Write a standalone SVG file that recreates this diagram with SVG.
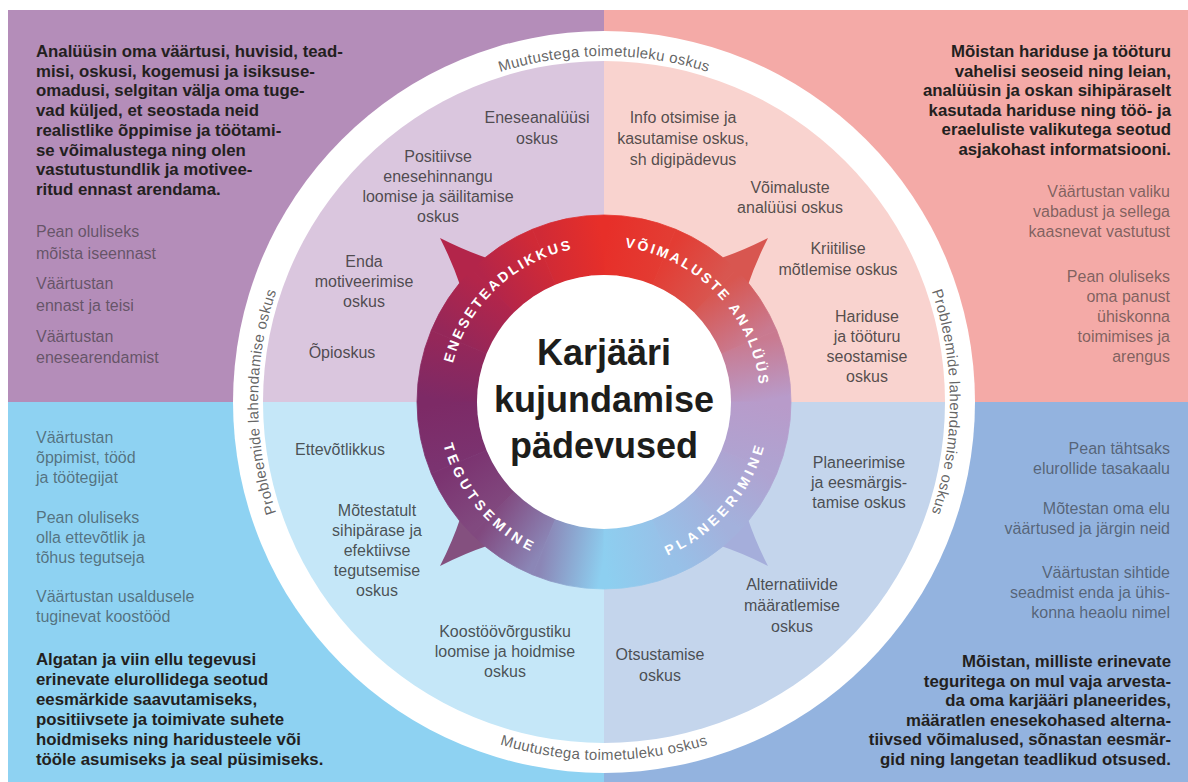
<svg xmlns="http://www.w3.org/2000/svg" xmlns:xlink="http://www.w3.org/1999/xlink" width="1188" height="782" viewBox="0 0 1188 782">
<style>
text{font-family:"Liberation Sans",Arial,sans-serif}
.bt{font-weight:bold;font-size:16.8px;fill:#231f20}
.gt{font-size:16px;fill:#2a2a2a;fill-opacity:.58}
.it{font-size:16px;fill:#2a2a2a;fill-opacity:.8;text-anchor:middle}
.rt{font-size:15px;fill:#4a4a4a;fill-opacity:.85;letter-spacing:.3px}
.lt{font-weight:bold;font-size:14px;fill:#fff;letter-spacing:2.5px}
.lb{font-weight:bold;font-size:14px;fill:#fff;letter-spacing:4px}
.ct{font-weight:bold;font-size:36px;fill:#1d1d1b;text-anchor:middle}
.end{text-anchor:end}
</style>
<defs>
<path id="spike" d="M460.2,285.6 Q452.9,263.5 440,238 Q465.5,250.9 487.6,258.2 Z"/>
<path id="p-ring-top" d="M304.4,229 A346,346 0 0,1 903.6,229"/>
<path id="p-ring-left" d="M431,701.6 A346,346 0 0,1 431,102.4"/>
<path id="p-ring-right" d="M777,102.4 A346,346 0 0,1 777,701.6"/>
<path id="p-ring-bottom" d="M294,581 A358,358 0 0,0 914,581"/>
<path id="p-ene" d="M452.3,438.4 A156,156 0 0,1 648.3,252.4"/>
<path id="p-voi" d="M566.3,250.6 A156,156 0 0,1 754,445"/>
<path id="p-teg" d="M447.1,344.9 A168,168 0 0,0 633,566.5"/>
<path id="p-pla" d="M572.1,565.9 A168,168 0 0,0 761.9,347.6"/>
<linearGradient id="g0" gradientUnits="userSpaceOnUse" x1="761" y1="402" x2="749.05" y2="341.92"><stop offset="0" stop-color="#b89bca"/><stop offset="1" stop-color="#c97a90"/></linearGradient>
<linearGradient id="g1" gradientUnits="userSpaceOnUse" x1="749.05" y1="341.92" x2="715.02" y2="290.98"><stop offset="0" stop-color="#c97a90"/><stop offset="1" stop-color="#d85650"/></linearGradient>
<linearGradient id="g2" gradientUnits="userSpaceOnUse" x1="715.02" y1="290.98" x2="664.08" y2="256.95"><stop offset="0" stop-color="#d85650"/><stop offset="1" stop-color="#e33c33"/></linearGradient>
<linearGradient id="g3" gradientUnits="userSpaceOnUse" x1="664.08" y1="256.95" x2="604" y2="245"><stop offset="0" stop-color="#e33c33"/><stop offset="1" stop-color="#e72f29"/></linearGradient>
<linearGradient id="g4" gradientUnits="userSpaceOnUse" x1="604" y1="245" x2="543.92" y2="256.95"><stop offset="0" stop-color="#e72f29"/><stop offset="1" stop-color="#d02a36"/></linearGradient>
<linearGradient id="g5" gradientUnits="userSpaceOnUse" x1="543.92" y1="256.95" x2="492.98" y2="290.98"><stop offset="0" stop-color="#d02a36"/><stop offset="1" stop-color="#b3254a"/></linearGradient>
<linearGradient id="g6" gradientUnits="userSpaceOnUse" x1="492.98" y1="290.98" x2="458.95" y2="341.92"><stop offset="0" stop-color="#b3254a"/><stop offset="1" stop-color="#952759"/></linearGradient>
<linearGradient id="g7" gradientUnits="userSpaceOnUse" x1="458.95" y1="341.92" x2="447" y2="402"><stop offset="0" stop-color="#952759"/><stop offset="1" stop-color="#7d2a66"/></linearGradient>
<linearGradient id="g8" gradientUnits="userSpaceOnUse" x1="447" y1="402" x2="458.95" y2="462.08"><stop offset="0" stop-color="#7d2a66"/><stop offset="1" stop-color="#7b3370"/></linearGradient>
<linearGradient id="g9" gradientUnits="userSpaceOnUse" x1="458.95" y1="462.08" x2="492.98" y2="513.02"><stop offset="0" stop-color="#7b3370"/><stop offset="1" stop-color="#81497f"/></linearGradient>
<linearGradient id="g10" gradientUnits="userSpaceOnUse" x1="492.98" y1="513.02" x2="543.92" y2="547.05"><stop offset="0" stop-color="#81497f"/><stop offset="1" stop-color="#8b86b6"/></linearGradient>
<linearGradient id="g11" gradientUnits="userSpaceOnUse" x1="543.92" y1="547.05" x2="604" y2="559"><stop offset="0" stop-color="#8b86b6"/><stop offset="1" stop-color="#8dcff0"/></linearGradient>
<linearGradient id="g12" gradientUnits="userSpaceOnUse" x1="604" y1="559" x2="664.08" y2="547.05"><stop offset="0" stop-color="#8dcff0"/><stop offset="1" stop-color="#97c1e8"/></linearGradient>
<linearGradient id="g13" gradientUnits="userSpaceOnUse" x1="664.08" y1="547.05" x2="715.02" y2="513.02"><stop offset="0" stop-color="#97c1e8"/><stop offset="1" stop-color="#a3b1dc"/></linearGradient>
<linearGradient id="g14" gradientUnits="userSpaceOnUse" x1="715.02" y1="513.02" x2="749.05" y2="462.08"><stop offset="0" stop-color="#a3b1dc"/><stop offset="1" stop-color="#afa3d1"/></linearGradient>
<linearGradient id="g15" gradientUnits="userSpaceOnUse" x1="749.05" y1="462.08" x2="761" y2="402"><stop offset="0" stop-color="#afa3d1"/><stop offset="1" stop-color="#b89bca"/></linearGradient>
</defs>

<g id="background">
<rect x="8" y="10" width="596" height="392" fill="#b48db9"/>
<rect x="604" y="10" width="584" height="392" fill="#f4aaa7"/>
<rect x="8" y="402" width="596" height="380" fill="#8ed2f2"/>
<rect x="604" y="402" width="584" height="380" fill="#93b3df"/>
</g>

<g id="outer-ring">
<circle cx="604" cy="402" r="371" fill="#fff"/>
<path d="M604,402 L263,402 A341,341 0 0,1 604,61 Z" fill="#dac6de"/>
<path d="M604,402 L604,61 A341,341 0 0,1 945,402 Z" fill="#f9d3cf"/>
<path d="M604,402 L945,402 A341,341 0 0,1 604,743 Z" fill="#c4d5ec"/>
<path d="M604,402 L604,743 A341,341 0 0,1 263,402 Z" fill="#c5e7f8"/>
<text class="rt" text-anchor="middle"><textPath href="#p-ring-top" startOffset="50%">Muutustega toimetuleku oskus</textPath></text>
<text class="rt" text-anchor="middle"><textPath href="#p-ring-bottom" startOffset="50%">Muutustega toimetuleku oskus</textPath></text>
<text class="rt" text-anchor="middle"><textPath href="#p-ring-left" startOffset="50%">Probleemide lahendamise oskus</textPath></text>
<text class="rt" text-anchor="middle"><textPath href="#p-ring-right" startOffset="50%">Probleemide lahendamise oskus</textPath></text>
</g>

<g id="center-ring">
<use href="#spike" fill="#b3254a"/>
<use href="#spike" fill="#d85650" transform="rotate(90 604 402)"/>
<use href="#spike" fill="#a5aedb" transform="rotate(180 604 402)"/>
<use href="#spike" fill="#84507f" transform="rotate(270 604 402)"/>
<path d="M791,402 A187,187 0 0,0 776.77,330.44 L721.33,353.4 A127,127 0 0,1 731,402 Z" fill="url(#g0)" stroke="url(#g0)" stroke-width=".8"/>
<path d="M776.77,330.44 A187,187 0 0,0 736.23,269.77 L693.8,312.2 A127,127 0 0,1 721.33,353.4 Z" fill="url(#g1)" stroke="url(#g1)" stroke-width=".8"/>
<path d="M736.23,269.77 A187,187 0 0,0 675.56,229.23 L652.6,284.67 A127,127 0 0,1 693.8,312.2 Z" fill="url(#g2)" stroke="url(#g2)" stroke-width=".8"/>
<path d="M675.56,229.23 A187,187 0 0,0 604,215 L604,275 A127,127 0 0,1 652.6,284.67 Z" fill="url(#g3)" stroke="url(#g3)" stroke-width=".8"/>
<path d="M604,215 A187,187 0 0,0 532.44,229.23 L555.4,284.67 A127,127 0 0,1 604,275 Z" fill="url(#g4)" stroke="url(#g4)" stroke-width=".8"/>
<path d="M532.44,229.23 A187,187 0 0,0 471.77,269.77 L514.2,312.2 A127,127 0 0,1 555.4,284.67 Z" fill="url(#g5)" stroke="url(#g5)" stroke-width=".8"/>
<path d="M471.77,269.77 A187,187 0 0,0 431.23,330.44 L486.67,353.4 A127,127 0 0,1 514.2,312.2 Z" fill="url(#g6)" stroke="url(#g6)" stroke-width=".8"/>
<path d="M431.23,330.44 A187,187 0 0,0 417,402 L477,402 A127,127 0 0,1 486.67,353.4 Z" fill="url(#g7)" stroke="url(#g7)" stroke-width=".8"/>
<path d="M417,402 A187,187 0 0,0 431.23,473.56 L486.67,450.6 A127,127 0 0,1 477,402 Z" fill="url(#g8)" stroke="url(#g8)" stroke-width=".8"/>
<path d="M431.23,473.56 A187,187 0 0,0 471.77,534.23 L514.2,491.8 A127,127 0 0,1 486.67,450.6 Z" fill="url(#g9)" stroke="url(#g9)" stroke-width=".8"/>
<path d="M471.77,534.23 A187,187 0 0,0 532.44,574.77 L555.4,519.33 A127,127 0 0,1 514.2,491.8 Z" fill="url(#g10)" stroke="url(#g10)" stroke-width=".8"/>
<path d="M532.44,574.77 A187,187 0 0,0 604,589 L604,529 A127,127 0 0,1 555.4,519.33 Z" fill="url(#g11)" stroke="url(#g11)" stroke-width=".8"/>
<path d="M604,589 A187,187 0 0,0 675.56,574.77 L652.6,519.33 A127,127 0 0,1 604,529 Z" fill="url(#g12)" stroke="url(#g12)" stroke-width=".8"/>
<path d="M675.56,574.77 A187,187 0 0,0 736.23,534.23 L693.8,491.8 A127,127 0 0,1 652.6,519.33 Z" fill="url(#g13)" stroke="url(#g13)" stroke-width=".8"/>
<path d="M736.23,534.23 A187,187 0 0,0 776.77,473.56 L721.33,450.6 A127,127 0 0,1 693.8,491.8 Z" fill="url(#g14)" stroke="url(#g14)" stroke-width=".8"/>
<path d="M776.77,473.56 A187,187 0 0,0 791,402 L731,402 A127,127 0 0,1 721.33,450.6 Z" fill="url(#g15)" stroke="url(#g15)" stroke-width=".8"/>
<circle cx="604" cy="402" r="127" fill="#fff"/>
<text class="lt" text-anchor="middle"><textPath href="#p-ene" startOffset="50%">ENESETEADLIKKUS</textPath></text>
<text class="lt" text-anchor="middle"><textPath href="#p-voi" startOffset="50%">VÕIMALUSTE ANALÜÜS</textPath></text>
<text class="lb" text-anchor="middle"><textPath href="#p-teg" startOffset="50%">TEGUTSEMINE</textPath></text>
<text class="lb" text-anchor="middle"><textPath href="#p-pla" startOffset="50%">PLANEERIMINE</textPath></text>
</g>

<g id="center-title">
<text class="ct" x="604" y="365">Karjääri</text>
<text class="ct" x="604" y="412">kujundamise</text>
<text class="ct" x="604" y="458">pädevused</text>
</g>

<g id="quadrant-top-left">
<text class="bt" x="36" y="57">Analüüsin oma väärtusi, huvisid, tead-</text>
<text class="bt" x="36" y="76.7">misi, oskusi, kogemusi ja isiksuse-</text>
<text class="bt" x="36" y="96.4">omadusi, selgitan välja oma tuge-</text>
<text class="bt" x="36" y="116.1">vad küljed, et seostada neid</text>
<text class="bt" x="36" y="135.9">realistlike õppimise ja  töötami-</text>
<text class="bt" x="36" y="155.6">se võimalustega ning olen</text>
<text class="bt" x="36" y="175.3">vastutustundlik ja motivee-</text>
<text class="bt" x="36" y="195">ritud ennast arendama.</text>
<text class="gt" x="36" y="237">Pean oluliseks</text>
<text class="gt" x="36" y="259">mõista iseennast</text>
<text class="gt" x="36" y="289">Väärtustan</text>
<text class="gt" x="36" y="311">ennast ja teisi</text>
<text class="gt" x="36" y="342">Väärtustan</text>
<text class="gt" x="36" y="363">enesearendamist</text>
</g>

<g id="quadrant-top-right">
<text class="bt end" x="1171" y="57">Mõistan hariduse ja tööturu</text>
<text class="bt end" x="1171" y="76.6">vahelisi seoseid ning leian,</text>
<text class="bt end" x="1171" y="96.2">analüüsin ja oskan sihipäraselt</text>
<text class="bt end" x="1171" y="115.8">kasutada hariduse ning töö- ja</text>
<text class="bt end" x="1171" y="135.4">eraeluliste valikutega seotud</text>
<text class="bt end" x="1171" y="155">asjakohast informatsiooni.</text>
<text class="gt end" x="1170" y="197">Väärtustan valiku</text>
<text class="gt end" x="1170" y="217">vabadust ja sellega</text>
<text class="gt end" x="1170" y="237">kaasnevat vastutust</text>
<text class="gt end" x="1170" y="282">Pean oluliseks</text>
<text class="gt end" x="1170" y="302">oma panust</text>
<text class="gt end" x="1170" y="322">ühiskonna</text>
<text class="gt end" x="1170" y="342">toimimises ja</text>
<text class="gt end" x="1170" y="362">arengus</text>
</g>

<g id="quadrant-bottom-left">
<text class="gt" x="36" y="443">Väärtustan</text>
<text class="gt" x="36" y="463">õppimist, tööd</text>
<text class="gt" x="36" y="483">ja töötegijat</text>
<text class="gt" x="36" y="523">Pean oluliseks</text>
<text class="gt" x="36" y="543">olla ettevõtlik ja</text>
<text class="gt" x="36" y="563">tõhus tegutseja</text>
<text class="gt" x="36" y="602">Väärtustan usaldusele</text>
<text class="gt" x="36" y="622">tuginevat koostööd</text>
<text class="bt" x="36" y="665">Algatan ja viin ellu tegevusi</text>
<text class="bt" x="36" y="685">erinevate elurollidega seotud</text>
<text class="bt" x="36" y="705">eesmärkide saavutamiseks,</text>
<text class="bt" x="36" y="725">positiivsete ja toimivate suhete</text>
<text class="bt" x="36" y="745">hoidmiseks ning haridusteele või</text>
<text class="bt" x="36" y="765">tööle asumiseks ja seal püsimiseks.</text>
</g>

<g id="quadrant-bottom-right">
<text class="gt end" x="1170" y="454">Pean tähtsaks</text>
<text class="gt end" x="1170" y="474">elurollide tasakaalu</text>
<text class="gt end" x="1170" y="514">Mõtestan oma elu</text>
<text class="gt end" x="1170" y="534">väärtused ja järgin neid</text>
<text class="gt end" x="1170" y="578">Väärtustan sihtide</text>
<text class="gt end" x="1170" y="598">seadmist enda ja ühis-</text>
<text class="gt end" x="1170" y="618">konna heaolu nimel</text>
<text class="bt end" x="1171" y="667">Mõistan, milliste erinevate</text>
<text class="bt end" x="1171" y="686.6">teguritega on mul vaja arvesta-</text>
<text class="bt end" x="1171" y="706.2">da oma karjääri planeerides,</text>
<text class="bt end" x="1171" y="725.8">määratlen enesekohased alterna-</text>
<text class="bt end" x="1171" y="745.4">tiivsed võimalused, sõnastan eesmär-</text>
<text class="bt end" x="1171" y="765">gid ning langetan teadlikud otsused.</text>
</g>

<g id="skills-eneseteadlikkus">
<text class="it" x="537" y="123">Eneseanalüüsi</text>
<text class="it" x="537" y="144">oskus</text>
<text class="it" x="438" y="162">Positiivse</text>
<text class="it" x="438" y="182">enesehinnangu</text>
<text class="it" x="438" y="202">loomise ja säilitamise</text>
<text class="it" x="438" y="222">oskus</text>
<text class="it" x="364" y="267">Enda</text>
<text class="it" x="364" y="287">motiveerimise</text>
<text class="it" x="364" y="307">oskus</text>
<text class="it" x="342" y="358">Õpioskus</text>
</g>

<g id="skills-voimaluste-analuus">
<text class="it" x="683" y="123">Info otsimise ja</text>
<text class="it" x="683" y="144">kasutamise oskus,</text>
<text class="it" x="683" y="165">sh digipädevus</text>
<text class="it" x="790" y="193">Võimaluste</text>
<text class="it" x="790" y="213">analüüsi oskus</text>
<text class="it" x="838" y="254">Kriitilise</text>
<text class="it" x="838" y="275">mõtlemise oskus</text>
<text class="it" x="867" y="322">Hariduse</text>
<text class="it" x="867" y="342">ja tööturu</text>
<text class="it" x="867" y="362">seostamise</text>
<text class="it" x="867" y="382">oskus</text>
</g>

<g id="skills-tegutsemine">
<text class="it" x="340" y="455">Ettevõtlikkus</text>
<text class="it" x="377" y="516">Mõtestatult</text>
<text class="it" x="377" y="536">sihipärase ja</text>
<text class="it" x="377" y="556">efektiivse</text>
<text class="it" x="377" y="576">tegutsemise</text>
<text class="it" x="377" y="596">oskus</text>
<text class="it" x="505" y="637">Koostöövõrgustiku</text>
<text class="it" x="505" y="657">loomise ja hoidmise</text>
<text class="it" x="505" y="677">oskus</text>
</g>

<g id="skills-planeerimine">
<text class="it" x="859" y="468">Planeerimise</text>
<text class="it" x="859" y="488">ja eesmärgis-</text>
<text class="it" x="859" y="508">tamise oskus</text>
<text class="it" x="792" y="590">Alternatiivide</text>
<text class="it" x="792" y="611">määratlemise</text>
<text class="it" x="792" y="632">oskus</text>
<text class="it" x="660" y="660">Otsustamise</text>
<text class="it" x="660" y="681">oskus</text>
</g>
</svg>
